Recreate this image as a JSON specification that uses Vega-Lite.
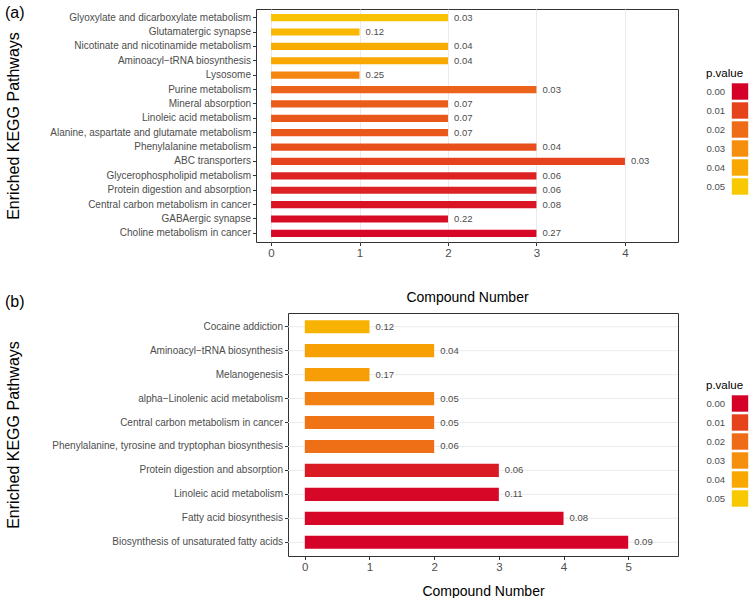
{
  "$schema": "https://vega.github.io/schema/vega-lite/v6.json",
  "background": "white",
  "padding": {"left": 4, "top": 4, "right": 0, "bottom": 0},
  "spacing": -11,
  "config": {
    "font": "Liberation Sans",
    "view": {"stroke": "#333333", "strokeWidth": 1},
    "axis": {
      "gridColor": "#EBEBEB", "gridWidth": 1, "domain": false, "domainColor": "#333333", "domainWidth": 1,
      "tickColor": "#333333", "tickSize": 3.5, "tickWidth": 1,
      "labelColor": "#4D4D4D", "labelFontSize": 11.5, "labelPadding": 2, "labelLimit": 400,
      "titleFontSize": 14, "titleFontWeight": "normal", "titleColor": "black"
    },
    "axisY": {"labelFontSize": 10, "titleFontSize": 16}
  },
  "datasets": {
    "a": [
      {"pathway": "Glyoxylate and dicarboxylate metabolism", "count": 2, "label": 0.03, "p": 0.048},
      {"pathway": "Glutamatergic synapse", "count": 1, "label": 0.12, "p": 0.045},
      {"pathway": "Nicotinate and nicotinamide metabolism", "count": 2, "label": 0.04, "p": 0.041},
      {"pathway": "Aminoacyl−tRNA biosynthesis", "count": 2, "label": 0.04, "p": 0.040},
      {"pathway": "Lysosome", "count": 1, "label": 0.25, "p": 0.028},
      {"pathway": "Purine metabolism", "count": 3, "label": 0.03, "p": 0.018},
      {"pathway": "Mineral absorption", "count": 2, "label": 0.07, "p": 0.016},
      {"pathway": "Linoleic acid metabolism", "count": 2, "label": 0.07, "p": 0.015},
      {"pathway": "Alanine, aspartate and glutamate metabolism", "count": 2, "label": 0.07, "p": 0.015},
      {"pathway": "Phenylalanine metabolism", "count": 3, "label": 0.04, "p": 0.013},
      {"pathway": "ABC transporters", "count": 4, "label": 0.03, "p": 0.010},
      {"pathway": "Glycerophospholipid metabolism", "count": 3, "label": 0.06, "p": 0.005},
      {"pathway": "Protein digestion and absorption", "count": 3, "label": 0.06, "p": 0.005},
      {"pathway": "Central carbon metabolism in cancer", "count": 3, "label": 0.08, "p": 0.003},
      {"pathway": "GABAergic synapse", "count": 2, "label": 0.22, "p": 0.002},
      {"pathway": "Choline metabolism in cancer", "count": 3, "label": 0.27, "p": 0.001}
    ],
    "b": [
      {"pathway": "Cocaine addiction", "count": 1, "label": 0.12, "p": 0.043},
      {"pathway": "Aminoacyl−tRNA biosynthesis", "count": 2, "label": 0.04, "p": 0.037},
      {"pathway": "Melanogenesis", "count": 1, "label": 0.17, "p": 0.036},
      {"pathway": "alpha−Linolenic acid metabolism", "count": 2, "label": 0.05, "p": 0.026},
      {"pathway": "Central carbon metabolism in cancer", "count": 2, "label": 0.05, "p": 0.022},
      {"pathway": "Phenylalanine, tyrosine and tryptophan biosynthesis", "count": 2, "label": 0.06, "p": 0.021},
      {"pathway": "Protein digestion and absorption", "count": 3, "label": 0.06, "p": 0.004},
      {"pathway": "Linoleic acid metabolism", "count": 3, "label": 0.11, "p": 0.001},
      {"pathway": "Fatty acid biosynthesis", "count": 4, "label": 0.08, "p": 0.001},
      {"pathway": "Biosynthesis of unsaturated fatty acids", "count": 5, "label": 0.09, "p": 0.0005}
    ]
  },
  "resolve": {"scale": {"color": "independent"}, "legend": {"color": "independent"}},
  "vconcat": [
    {
      "title": {"text": "(a)", "anchor": "start", "frame": "bounds", "orient": "top", "offset": -12, "baseline": "top", "fontSize": 16, "fontWeight": "normal", "color": "black"},
      "width": 422,
      "height": 233,
      "data": {"name": "a"},
      "encoding": {
        "y": {
          "field": "pathway", "type": "nominal",
          "sort": ["Glyoxylate and dicarboxylate metabolism", "Glutamatergic synapse", "Nicotinate and nicotinamide metabolism", "Aminoacyl−tRNA biosynthesis", "Lysosome", "Purine metabolism", "Mineral absorption", "Linoleic acid metabolism", "Alanine, aspartate and glutamate metabolism", "Phenylalanine metabolism", "ABC transporters", "Glycerophospholipid metabolism", "Protein digestion and absorption", "Central carbon metabolism in cancer", "GABAergic synapse", "Choline metabolism in cancer"],
          "scale": {"paddingInner": 0.5, "paddingOuter": 0.35},
          "axis": {"title": "Enriched KEGG Pathways", "bandPosition": 0.5, "titleX": -235}
        },
        "x": {
          "field": "count", "type": "quantitative",
          "scale": {"domain": [-0.17, 4.6], "nice": false, "zero": false},
          "axis": {"title": "Compound Number", "values": [0, 1, 2, 3, 4], "titlePadding": 31}
        }
      },
      "layer": [
        {
          "mark": {"type": "bar", "stroke": null},
          "encoding": {
            "color": {
              "field": "p", "type": "quantitative",
              "scale": {"domain": [0, 0.01, 0.02, 0.03, 0.04, 0.05], "range": ["#D40028", "#E4431C", "#EE6C18", "#F68E0E", "#F8A800", "#F8C800"], "interpolate": "rgb"},
              "legend": {
                "type": "symbol", "values": [0, 0.01, 0.02, 0.03, 0.04, 0.05], "format": ".2f", "direction": "vertical",
                "title": "p.value", "titleFontSize": 11.5, "titleFontWeight": "normal", "titleColor": "black", "titlePadding": 3,
                "labelFontSize": 9.6, "labelColor": "#4D4D4D",
                "symbolType": "square", "symbolSize": 289, "symbolStrokeColor": "white", "symbolStrokeWidth": 0.6, "symbolOpacity": 1,
                "symbolOffset": 25, "labelOffset": -42.6, "rowPadding": -1.3,
                "orient": "none", "offset": 0, "padding": 0, "legendX": 450, "legendY": 59
              }
            }
          }
        },
        {
          "mark": {"type": "text", "align": "left", "baseline": "middle", "dx": 6, "fontSize": 9.5, "color": "#4D4D4D"},
          "encoding": {"text": {"field": "label", "type": "quantitative", "format": ".2f"}}
        }
      ]
    },
    {
      "title": {"text": "(b)", "anchor": "start", "frame": "bounds", "orient": "top", "offset": -13, "baseline": "bottom", "fontSize": 16, "fontWeight": "normal", "color": "black"},
      "width": 422,
      "height": 243,
      "view": {"stroke": null},
      "data": {"name": "b"},
      "resolve": {"axis": {"x": "independent", "y": "independent"}},
      "layer": [
        {
          "mark": {"type": "rule", "color": "#EBEBEB", "strokeWidth": 1},
          "encoding": {
            "y": {
              "field": "pathway", "type": "nominal",
              "sort": ["Cocaine addiction", "Aminoacyl−tRNA biosynthesis", "Melanogenesis", "alpha−Linolenic acid metabolism", "Central carbon metabolism in cancer", "Phenylalanine, tyrosine and tryptophan biosynthesis", "Protein digestion and absorption", "Linoleic acid metabolism", "Fatty acid biosynthesis", "Biosynthesis of unsaturated fatty acids"],
              "scale": {"paddingInner": 0.45, "paddingOuter": 0.3},
              "axis": null
            },
            "x": {"datum": -0.26, "type": "quantitative", "scale": {"domain": [-0.26, 5.77], "range": [32, 422], "nice": false, "zero": false}, "axis": null},
            "x2": {"datum": 5.77}
          }
        },
        {
          "mark": {"type": "bar", "stroke": null},
          "encoding": {
            "y": {
              "field": "pathway", "type": "nominal",
              "sort": ["Cocaine addiction", "Aminoacyl−tRNA biosynthesis", "Melanogenesis", "alpha−Linolenic acid metabolism", "Central carbon metabolism in cancer", "Phenylalanine, tyrosine and tryptophan biosynthesis", "Protein digestion and absorption", "Linoleic acid metabolism", "Fatty acid biosynthesis", "Biosynthesis of unsaturated fatty acids"],
              "axis": {"title": "Enriched KEGG Pathways", "bandPosition": 0.5, "offset": -32, "grid": false, "domain": true, "titleX": -267}
            },
            "x": {
              "field": "count", "type": "quantitative",
              "axis": {"title": "Compound Number", "values": [0, 1, 2, 3, 4, 5], "titlePadding": 11, "domain": true}
            },
            "color": {
              "field": "p", "type": "quantitative",
              "scale": {"domain": [0, 0.01, 0.02, 0.03, 0.04, 0.05], "range": ["#D40028", "#E4431C", "#EE6C18", "#F68E0E", "#F8A800", "#F8C800"], "interpolate": "rgb"},
              "legend": {
                "type": "symbol", "values": [0, 0.01, 0.02, 0.03, 0.04, 0.05], "format": ".2f", "direction": "vertical",
                "title": "p.value", "titleFontSize": 11.5, "titleFontWeight": "normal", "titleColor": "black", "titlePadding": 3,
                "labelFontSize": 9.6, "labelColor": "#4D4D4D",
                "symbolType": "square", "symbolSize": 289, "symbolStrokeColor": "white", "symbolStrokeWidth": 0.6, "symbolOpacity": 1,
                "symbolOffset": 25, "labelOffset": -42.6, "rowPadding": -1.3,
                "orient": "none", "offset": 0, "padding": 0, "legendX": 450, "legendY": 67
              }
            }
          }
        },
        {
          "mark": {"type": "text", "align": "left", "baseline": "middle", "dx": 6, "fontSize": 9.5, "color": "#4D4D4D"},
          "encoding": {
            "y": {
              "field": "pathway", "type": "nominal",
              "sort": ["Cocaine addiction", "Aminoacyl−tRNA biosynthesis", "Melanogenesis", "alpha−Linolenic acid metabolism", "Central carbon metabolism in cancer", "Phenylalanine, tyrosine and tryptophan biosynthesis", "Protein digestion and absorption", "Linoleic acid metabolism", "Fatty acid biosynthesis", "Biosynthesis of unsaturated fatty acids"],
              "axis": null
            },
            "x": {"field": "count", "type": "quantitative", "axis": null},
            "text": {"field": "label", "type": "quantitative", "format": ".2f"}
          }
        },
        {
          "mark": {"type": "point", "opacity": 0},
          "encoding": {
            "y": {
              "field": "pathway", "type": "nominal",
              "sort": ["Cocaine addiction", "Aminoacyl−tRNA biosynthesis", "Melanogenesis", "alpha−Linolenic acid metabolism", "Central carbon metabolism in cancer", "Phenylalanine, tyrosine and tryptophan biosynthesis", "Protein digestion and absorption", "Linoleic acid metabolism", "Fatty acid biosynthesis", "Biosynthesis of unsaturated fatty acids"],
              "axis": {"orient": "right", "labels": false, "ticks": false, "grid": false, "domain": true, "title": null}
            },
            "x": {
              "field": "count", "type": "quantitative",
              "axis": {"orient": "top", "labels": false, "ticks": false, "grid": false, "domain": true, "title": null}
            }
          }
        }
      ]
    }
  ]
}
